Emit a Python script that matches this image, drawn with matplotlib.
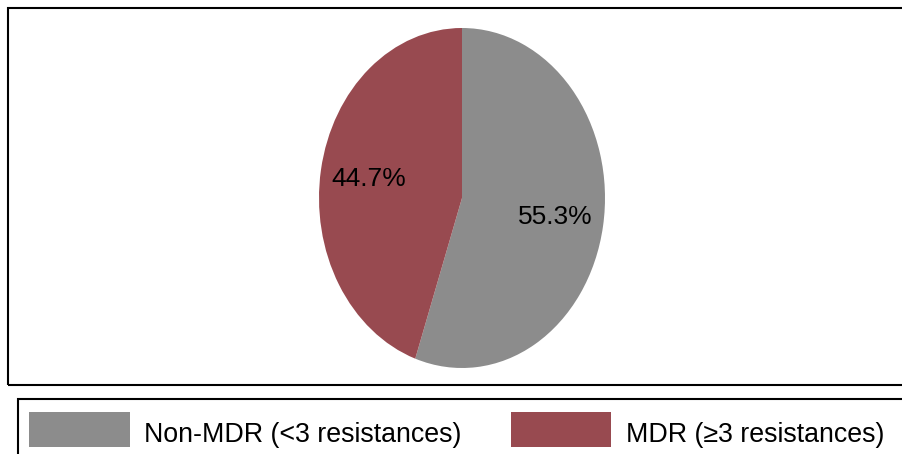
import matplotlib.pyplot as plt
from matplotlib.patches import Rectangle

plt.rcParams['font.family'] = ['Liberation Sans', 'DejaVu Sans']

labels = ['Non-MDR (<3 resistances)', 'MDR (\u22653 resistances)']
shares = [55.3, 44.7]
colors = ['#8C8C8C', '#984A50']

W, H = 902, 454
fig = plt.figure(figsize=(W / 100, H / 100), dpi=100)

# outer frame around the plot area (runs off the right edge)
fig.patches.append(Rectangle((8 / W, 1 - 385 / H), 1.2, (385 - 8) / H,
                             transform=fig.transFigure, fill=False,
                             edgecolor='black', linewidth=1.5))
# legend frame, cut off at the right and bottom
fig.patches.append(Rectangle((18 / W, -0.2), 1.2, 0.2 + (H - 399) / H,
                             transform=fig.transFigure, fill=False,
                             edgecolor='black', linewidth=1.5))

# pie drawn in a tall axes so it comes out as an ellipse
ax = fig.add_axes([319 / W, 1 - 368 / H, 286 / W, 340 / H])
wedges, _, autotexts = ax.pie(shares, colors=colors, startangle=90,
                              counterclock=False, autopct='%.1f%%',
                              pctdistance=0.66,
                              textprops={'fontsize': 19, 'color': 'black'})
ax.set_aspect('auto')
ax.set_xlim(-1, 1)
ax.set_ylim(-1, 1)
ax.axis('off')

leg = fig.legend(wedges, labels, ncol=2, loc='upper left',
                 bbox_to_anchor=(29 / W, 1 - 412 / H), borderaxespad=0,
                 fontsize=19.3, handlelength=3.75, handleheight=1.64,
                 handletextpad=0.55, columnspacing=1.83, borderpad=0,
                 frameon=False)
for t in leg.get_texts():
    t.set_y(-4)

fig.savefig('out.png', dpi=100)
